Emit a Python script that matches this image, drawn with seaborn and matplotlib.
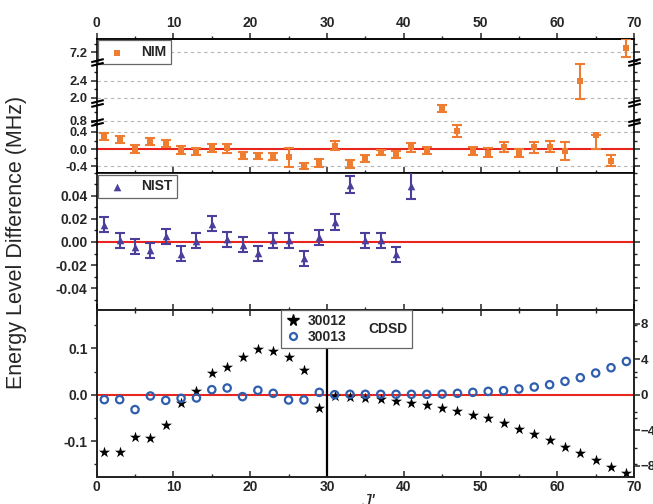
import numpy as np
import matplotlib
matplotlib.use("Agg")
import matplotlib.pyplot as plt
import seaborn as sns
from matplotlib.path import Path
from matplotlib.lines import Line2D
from matplotlib.ticker import FixedLocator, MultipleLocator, FormatStrFormatter

# ---- data ----
j_odd = list(range(1, 70, 2))

nim_diff = [0.29, 0.22, 0.00, 0.18, 0.13, -0.02, -0.05, 0.02, 0.02, -0.14,
            -0.16, -0.18, -0.19, -0.39, -0.32, 0.08, -0.35, -0.22, -0.07, -0.13,
            0.04, -0.03, 1.09, 0.43, -0.04, -0.08, 0.05, -0.09, 0.04, 0.06,
            -0.04, 2.38, 0.34, -0.27, 7.29]
nim_err_lo = [0.08, 0.08, 0.09, 0.08, 0.09, 0.09, 0.08, 0.09, 0.10, 0.08,
              0.06, 0.08, 0.22, 0.06, 0.09, 0.10, 0.09, 0.08, 0.06, 0.08,
              0.10, 0.09, 0.08, 0.14, 0.10, 0.10, 0.12, 0.10, 0.12, 0.12,
              0.20, 0.40, 0.34, 0.13, 0.21]
nim_err_hi = [0.08, 0.08, 0.09, 0.08, 0.09, 0.09, 0.08, 0.09, 0.10, 0.08,
              0.06, 0.08, 0.22, 0.06, 0.09, 0.10, 0.09, 0.08, 0.06, 0.08,
              0.10, 0.09, 0.08, 0.14, 0.10, 0.10, 0.12, 0.10, 0.12, 0.12,
              0.20, 0.40, 0.00, 0.13, 0.21]

nist_j = list(range(1, 42, 2))
nist_diff = [0.0151, 0.0017, -0.0043, -0.0072, 0.0049, -0.0101, 0.0009, 0.0157,
             0.0023, -0.0023, -0.0096, 0.0017, 0.0017, -0.0142, 0.0043, 0.0174,
             0.0499, 0.0017, 0.0017, -0.0107, 0.0490]
nist_err = [0.0065, 0.0065, 0.0065, 0.0065, 0.0065, 0.0065, 0.0065, 0.0065,
            0.0065, 0.0065, 0.0065, 0.0065, 0.0065, 0.0065, 0.0065, 0.0070,
            0.0075, 0.0065, 0.0065, 0.0065, 0.0117]

cdsd_30012 = [-0.123, -0.123, -0.092, -0.094, -0.066, -0.018, 0.009, 0.047, 0.060, 0.081,
              0.099, 0.094, 0.081, 0.054, -0.028, -0.002, -0.005, -0.008, -0.010, -0.013,
              -0.017, -0.022, -0.029, -0.036, -0.044, -0.051, -0.062, -0.073, -0.085, -0.098,
              -0.112, -0.126, -0.141, -0.155, -0.169]
cdsd_30013 = [-0.56, -0.56, -1.68, -0.15, -0.64, -0.41, -0.37, 0.56, 0.75, -0.22,
              0.49, 0.15, -0.60, -0.60, 0.26, 0.00, 0.04, 0.04, 0.04, 0.04,
              0.04, 0.04, 0.07, 0.15, 0.26, 0.37, 0.45, 0.64, 0.86, 1.12,
              1.50, 1.91, 2.43, 3.03, 3.74]

nim_major = [-0.4, 0.0, 0.4, 0.8, 2.0, 2.4, 7.2]
nim_minor = [-0.2, 0.2, 0.6, 1.0, 2.2, 2.6, 7.0, 7.4]

ORANGE = '#EF7D31'
PURPLE = '#4B3F9C'
BLUE = '#2F5EAE'
RED = '#E8251F'
TICK_FS = 10

sns.set_style("ticks")
plt.rcParams['font.family'] = ['Liberation Sans', 'DejaVu Sans']
plt.rcParams['axes.linewidth'] = 1.2
plt.rcParams['xtick.major.width'] = 1.1
plt.rcParams['ytick.major.width'] = 1.1
plt.rcParams['xtick.minor.width'] = 1.0
plt.rcParams['ytick.minor.width'] = 1.0
plt.rcParams['xtick.major.size'] = 4
plt.rcParams['ytick.major.size'] = 4
plt.rcParams['xtick.minor.size'] = 2.2
plt.rcParams['ytick.minor.size'] = 2.2
plt.rcParams['xtick.major.pad'] = 2.5
plt.rcParams['ytick.major.pad'] = 2.5

fig = plt.figure(figsize=(6.53, 5.04), dpi=100)
L, W = 0.148, 0.823
ax_t = fig.add_axes([L, 0.657, W, 0.266])
ax_m = fig.add_axes([L, 0.385, W, 0.272])
ax_b = fig.add_axes([L, 0.054, W, 0.331])

# broken y scale for the NIM panel: same slope everywhere, gaps collapsed
seg_v = [-0.55, 0.635, 0.77, 1.22, 1.89, 2.83, 6.97, 7.51]
seg_p = [0.0, 51.0, 51.0, 70.3, 70.3, 110.7, 110.7, 134.0]
ax_t.set_yscale('function', functions=(lambda v: np.interp(v, seg_v, seg_p),
                                       lambda p: np.interp(p, seg_p, seg_v)))
ax_t.set_ylim(-0.55, 7.51)


def style_axes(ax, fs=TICK_FS):
    ax.set_xlim(0, 70)
    ax.xaxis.set_major_locator(MultipleLocator(10))
    ax.xaxis.set_minor_locator(MultipleLocator(5))
    for s in ax.spines.values():
        s.set_visible(True)
        s.set_color('black')
    ax.tick_params(axis='y', which='both', direction='out', left=True, right=True,
                   labelright=False, labelsize=fs)
    ax.tick_params(axis='x', which='both', direction='in', bottom=True, top=False,
                   labelbottom=False)
    for lab in ax.get_yticklabels():
        lab.set_fontweight('bold')


# ---- NIM ----
ax_t.errorbar(j_odd, nim_diff, yerr=[nim_err_lo, nim_err_hi], fmt='none',
              ecolor=ORANGE, elinewidth=1.5, capsize=3.5, capthick=1.5, zorder=3)
sns.scatterplot(x=j_odd, y=nim_diff, marker='s', color=ORANGE, s=22, linewidth=0,
                ax=ax_t, label='NIM', zorder=4)
ax_t.axhline(0, color=RED, lw=1.5, zorder=2)
ax_t.yaxis.set_major_locator(FixedLocator(nim_major))
ax_t.yaxis.set_minor_locator(FixedLocator(nim_minor))
ax_t.yaxis.set_major_formatter(FormatStrFormatter('%.1f'))
ax_t.grid(axis='y', which='major', ls=(0, (3, 3)), color='#b5b5b5', lw=0.8)
style_axes(ax_t, fs=9.3)
sec = ax_t.secondary_xaxis('top')
sec.xaxis.set_major_locator(MultipleLocator(10))
sec.xaxis.set_minor_locator(MultipleLocator(5))
sec.tick_params(axis='x', which='both', direction='out', labelsize=TICK_FS)
for lab in sec.get_xticklabels():
    lab.set_fontweight('bold')

brk = Path([(-1, -0.55), (1, -0.05), (-1, 0.05), (1, 0.55)],
           [Path.MOVETO, Path.LINETO, Path.MOVETO, Path.LINETO])
for yb in [0.70, 1.5, 5.0]:
    ax_t.plot([0, 1], [yb, yb], transform=ax_t.get_yaxis_transform(), ls='none',
              marker=brk, ms=9, mec='black', mew=1.5, clip_on=False, zorder=6)

# ---- NIST ----
ax_m.errorbar(nist_j, nist_diff, yerr=nist_err, fmt='none', ecolor=PURPLE,
              elinewidth=1.5, capsize=3.5, capthick=1.5, zorder=3)
sns.scatterplot(x=nist_j, y=nist_diff, marker='^', color=PURPLE, s=30, linewidth=0,
                ax=ax_m, label='NIST', zorder=4)
ax_m.axhline(0, color=RED, lw=1.5, zorder=2)
ax_m.set_ylim(-0.059, 0.060)
ax_m.yaxis.set_major_locator(FixedLocator([-0.04, -0.02, 0.0, 0.02, 0.04]))
ax_m.yaxis.set_minor_locator(MultipleLocator(0.01))
ax_m.yaxis.set_major_formatter(FormatStrFormatter('%.2f'))
style_axes(ax_m)

# ---- CDSD ----
ax_b2 = ax_b.twinx()
ax_b.axhline(0, color=RED, lw=1.5, zorder=1)
ax_b.axvline(30, color='black', lw=1.6, zorder=1)
sns.scatterplot(x=j_odd, y=cdsd_30012, marker='*', color='black', s=70, linewidth=0,
                ax=ax_b, zorder=3, legend=False)
ax_b2.scatter(j_odd, cdsd_30013, marker='o', facecolors='none', edgecolors=BLUE,
              s=28, linewidths=1.6, zorder=3)
ax_b.set_ylim(-0.177, 0.183)
ax_b.yaxis.set_major_locator(MultipleLocator(0.1))
ax_b.yaxis.set_minor_locator(MultipleLocator(0.05))
ax_b.yaxis.set_major_formatter(FormatStrFormatter('%.1f'))
style_axes(ax_b)
ax_b.tick_params(axis='y', right=False)
ax_b.tick_params(axis='x', which='both', top=True, labelbottom=True, labelsize=TICK_FS)
for lab in ax_b.get_xticklabels():
    lab.set_fontweight('bold')
ax_b2.set_ylim(-9.24, 9.53)
ax_b2.yaxis.set_major_locator(MultipleLocator(4))
ax_b2.yaxis.set_minor_locator(MultipleLocator(2))
ax_b2.tick_params(axis='y', which='both', direction='out', labelsize=9.5, pad=0.8)
for lab in ax_b2.get_yticklabels():
    lab.set_fontweight('bold')

# ---- legends ----
leg_kw = dict(frameon=True, fancybox=False, framealpha=1, edgecolor='#666666',
              prop={'weight': 'bold', 'size': 10}, borderaxespad=0.12,
              handletextpad=0.7, borderpad=0.35)
ax_t.legend(loc='upper left', **leg_kw).get_frame().set_linewidth(0.9)
ax_m.legend(loc='upper left', **leg_kw).get_frame().set_linewidth(0.9)
h_star = Line2D([], [], ls='none', marker='*', color='black', ms=8.5)
h_circ = Line2D([], [], ls='none', marker='o', mfc='none', mec=BLUE, mew=1.6, ms=5)
h_none = Line2D([], [], ls='none')
leg_b = ax_b2.legend([h_star, h_circ, h_none], ['30012', '30013', 'CDSD'], ncol=2,
                     loc='upper left', bbox_to_anchor=(0.343, 1.0),
                     columnspacing=0.0, labelspacing=0.12, handlelength=1.1,
                     **{**leg_kw, 'borderaxespad': 0, 'handletextpad': 0.5,
                        'borderpad': 0.3})
leg_b.get_frame().set_linewidth(0.9)
# keep the third legend slot for spacing, show "CDSD" centred vertically in the box
cdsd_txt = leg_b.get_texts()[2]
cdsd_txt.set_color('none')
fig.canvas.draw()
tb = cdsd_txt.get_window_extent()
fb = leg_b.get_frame().get_window_extent()
cdsd_txt.set_visible(False)
fig.text((tb.x0 + tb.x1) / 2 / fig.bbox.width, (fb.y0 + fb.y1) / 2 / fig.bbox.height,
         'CDSD', ha='center', va='center', fontsize=10, fontweight='bold')

fig.text(0.026, 0.518, 'Energy Level Difference (MHz)', rotation=90,
         ha='center', va='center', fontsize=15.5)
fig.text(0.563, 1 - 494 / 504, "J'", style='italic', fontsize=14, ha='center', va='top')

fig.savefig('out.png', dpi=100)
